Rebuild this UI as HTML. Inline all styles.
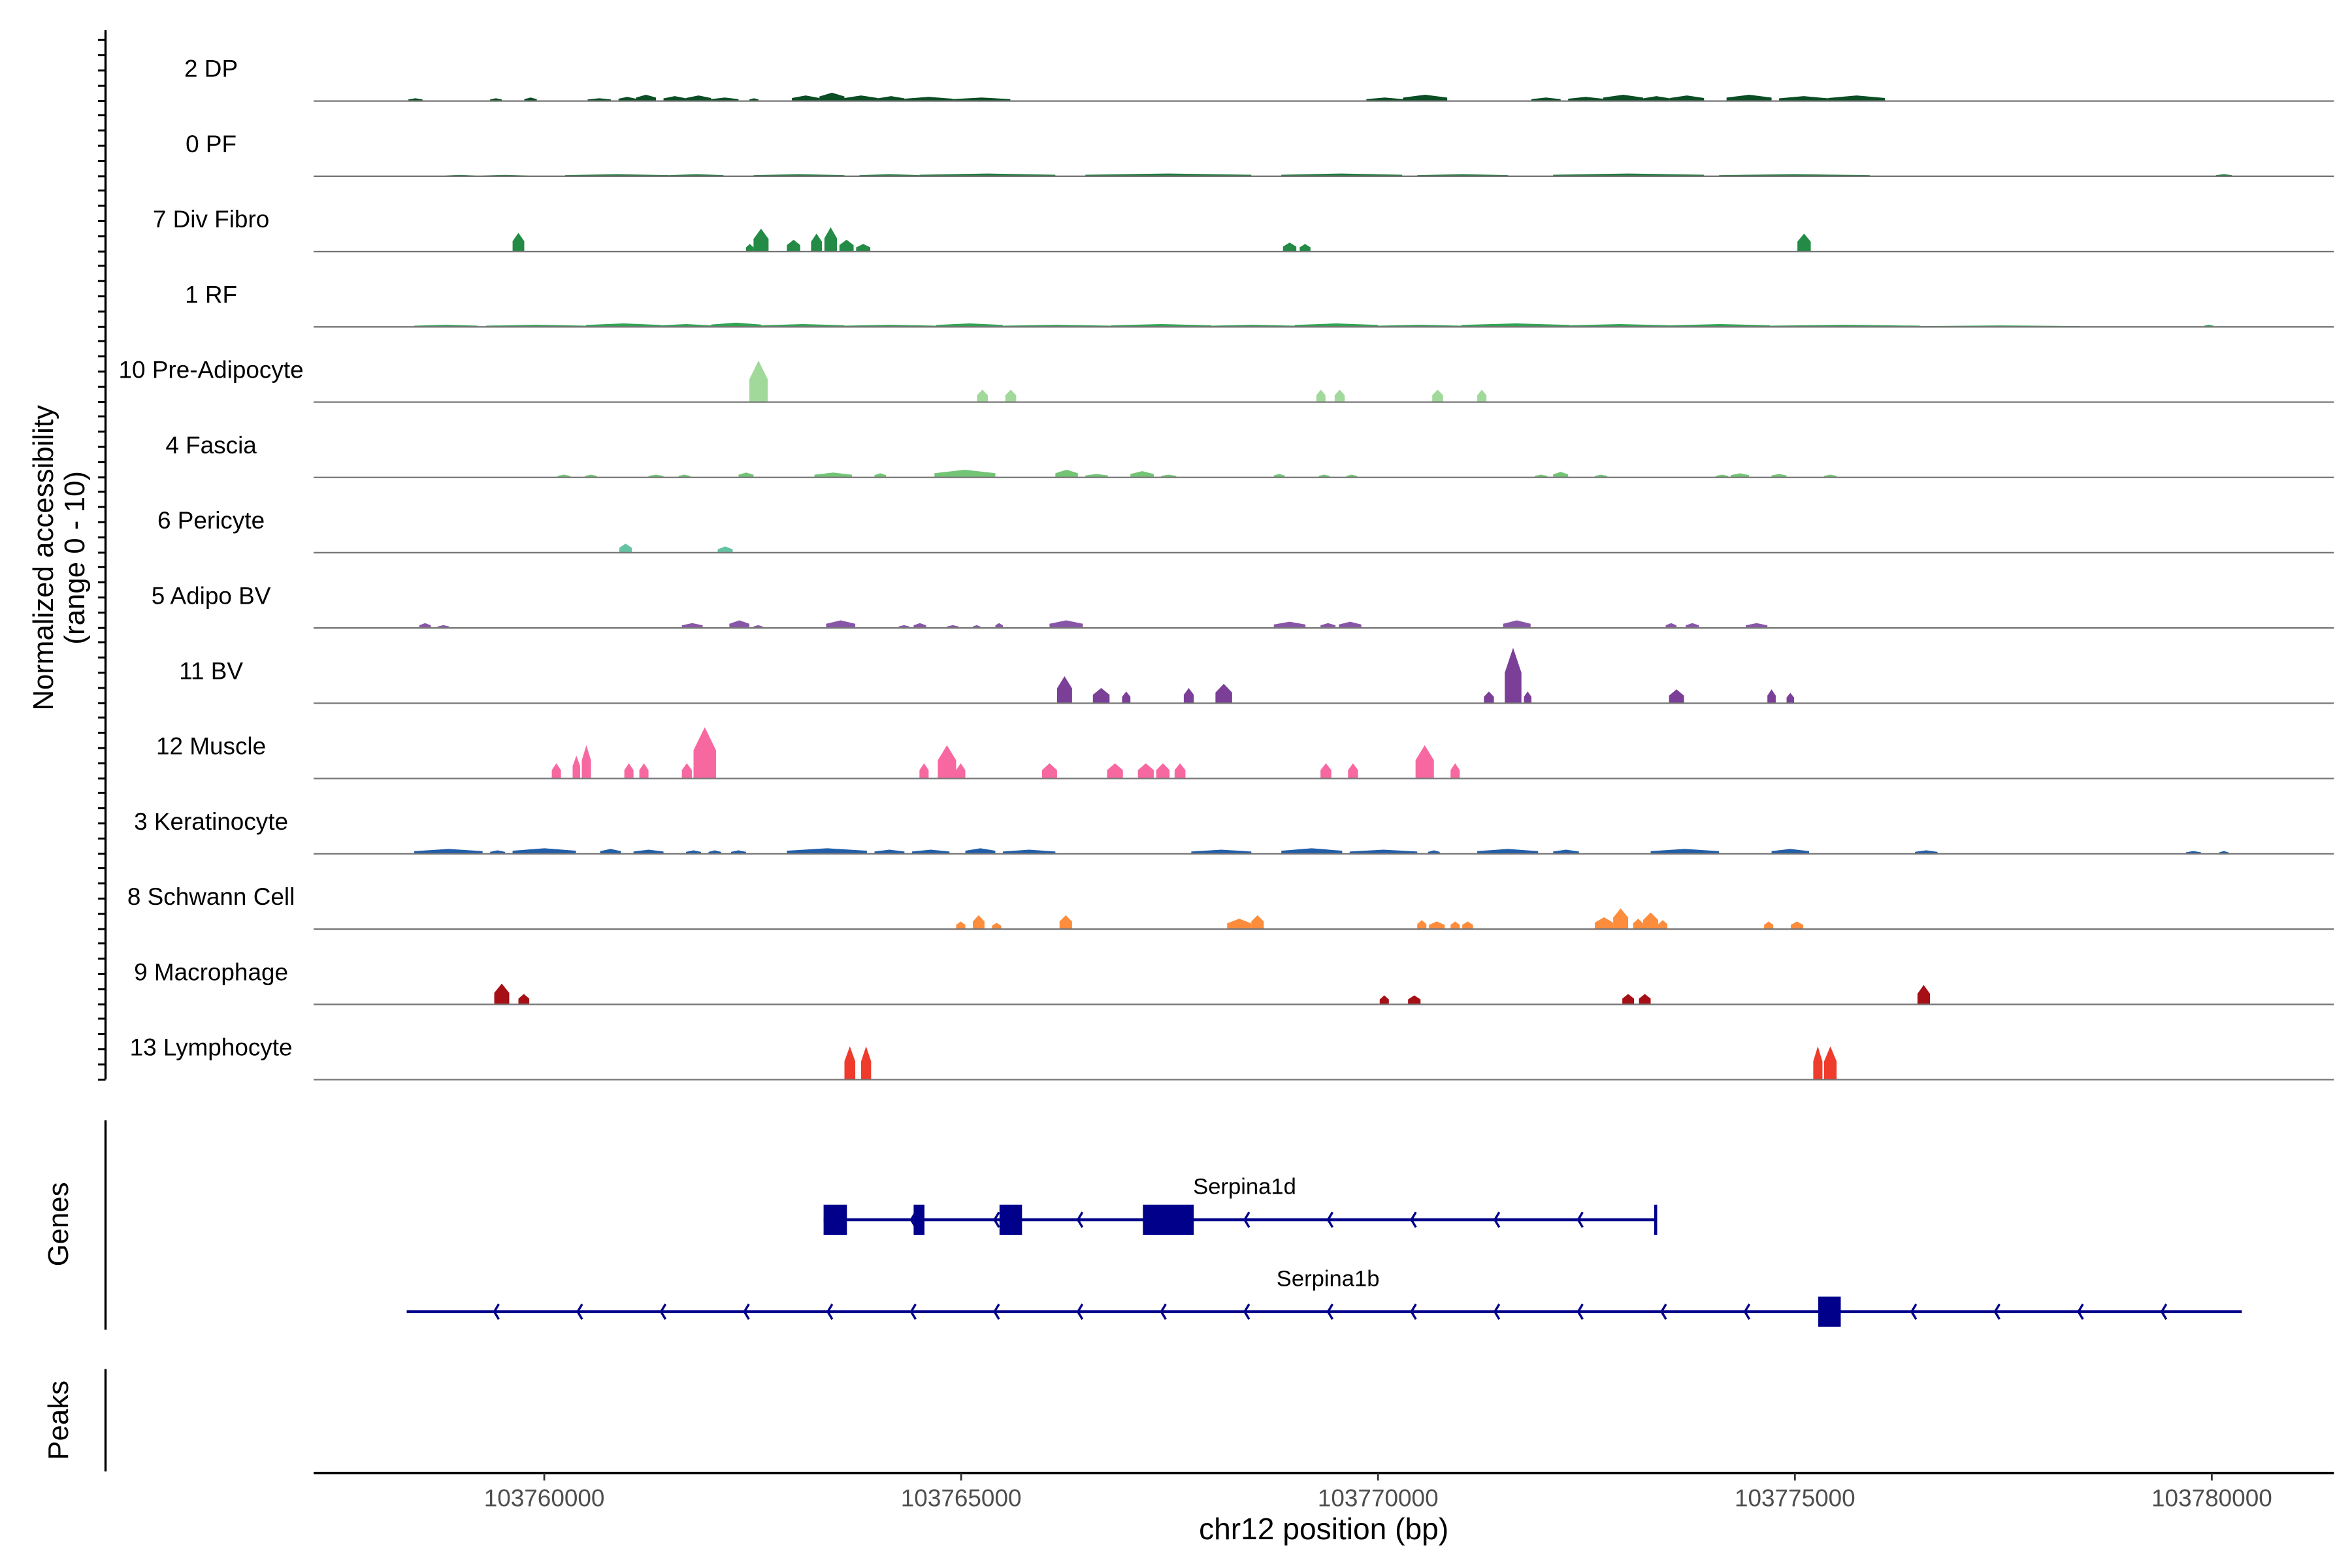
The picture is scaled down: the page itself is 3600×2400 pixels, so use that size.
<!DOCTYPE html>
<html><head><meta charset="utf-8"><style>
html,body{margin:0;padding:0;background:#fff;}
svg{display:block;font-family:"Liberation Sans",Arial,sans-serif;}
</style></head>
<body>
<svg id="chart" width="3600" height="2400" viewBox="0 0 1560 1040" xmlns="http://www.w3.org/2000/svg">
<g id="tracks"></g>
<g id="yaxis"></g>
<text transform="translate(35,370) rotate(-90)" text-anchor="middle" font-size="19" fill="#000">Normalized accessibility</text>
<text transform="translate(56,370) rotate(-90)" text-anchor="middle" font-size="19" fill="#000">(range 0 - 10)</text>
<line x1="70" y1="743" x2="70" y2="882" stroke="#000" stroke-width="1.5"/>
<text transform="translate(45,812) rotate(-90)" text-anchor="middle" font-size="19" fill="#000">Genes</text>
<line x1="70" y1="908" x2="70" y2="976" stroke="#000" stroke-width="1.5"/>
<text transform="translate(45,942) rotate(-90)" text-anchor="middle" font-size="19" fill="#000">Peaks</text>
<g id="genes"></g>
<g id="xaxis"></g>
<text x="878" y="1021" text-anchor="middle" font-size="20" fill="#000">chr12 position (bp)</text>
</svg>
<script>
// genomic positions in kb relative to 103,760,000; values in normalized accessibility (0-10)
const trackNames = ["2 DP","0 PF","7 Div Fibro","1 RF","10 Pre-Adipocyte","4 Fascia","6 Pericyte","5 Adipo BV","11 BV","12 Muscle","3 Keratinocyte","8 Schwann Cell","9 Macrophage","13 Lymphocyte"];
const trackColors = ["#0b4d24","#1f7a3c","#238b45","#33a454","#a1d99b","#74c476","#66c2a4","#8856a7","#7b3f98","#f768a1","#225ea8","#fd8d3c","#a50f15","#ef3b2c"];
const peaksDP = [[-1.63,-1.46,0.4],[-0.65,-0.51,0.4],[-0.24,-0.09,0.5],[0.52,0.80,0.4],[0.89,1.1,0.6],[1.1,1.34,0.9],[1.43,1.7,0.7],[1.7,2.0,0.8],[2.0,2.33,0.5],[2.46,2.57,0.4],[2.97,3.3,0.8],[3.3,3.6,1.2],[3.6,4.0,0.8],[4.0,4.32,0.7],[4.32,4.9,0.6],[4.9,5.59,0.5],[9.86,10.3,0.5],[10.3,10.83,0.9],[11.84,12.19,0.5],[12.28,12.7,0.6],[12.7,13.18,0.9],[13.18,13.5,0.7],[13.5,13.91,0.8],[14.18,14.72,0.9],[14.81,15.4,0.7],[15.4,16.08,0.8]];
const peaksPF = [[-1.19,-0.83,0.2],[-0.74,-0.20,0.2],[0.25,1.5,0.3],[1.5,2.15,0.3],[2.51,3.6,0.3],[3.78,4.5,0.3],[4.5,6.13,0.4],[6.49,8.48,0.4],[8.84,10.29,0.4],[10.47,11.56,0.3],[12.10,13.91,0.4],[14.09,15.90,0.3],[20.05,20.24,0.3]];
const peaksDivFibro = [[-0.38,-0.24,2.7],[2.42,2.51,1.1],[2.51,2.69,3.3],[2.91,3.07,1.7],[3.20,3.33,2.6],[3.36,3.51,3.5],[3.54,3.71,1.7],[3.74,3.91,1.1],[8.86,9.02,1.3],[9.06,9.19,1.1],[15.03,15.19,2.6]];
const peaksRF = [[-1.56,-0.8,0.3],[-0.7,0.5,0.3],[0.5,1.4,0.5],[1.4,2.0,0.4],[2.0,2.6,0.6],[2.6,3.6,0.4],[3.6,4.7,0.3],[4.7,5.5,0.5],[5.5,6.8,0.3],[6.8,8.0,0.4],[8.0,9.0,0.3],[9.0,10.0,0.5],[10.0,11.0,0.3],[11.0,12.3,0.5],[12.3,13.5,0.4],[13.5,14.7,0.4],[14.7,16.5,0.3],[16.5,18.43,0.2],[19.91,20.02,0.3]];
const peaksPreAdipo = [[2.46,2.68,6.0],[5.19,5.32,1.8],[5.53,5.66,1.8],[9.26,9.37,1.8],[9.48,9.60,1.8],[10.65,10.78,1.8],[11.19,11.30,1.8]];
const peaksFascia = [[0.16,0.31,0.4],[0.49,0.63,0.4],[1.25,1.43,0.4],[1.61,1.75,0.4],[2.33,2.51,0.7],[3.24,3.69,0.7],[3.96,4.10,0.6],[4.68,5.41,1.1],[6.13,6.40,1.1],[6.49,6.76,0.5],[7.03,7.31,0.9],[7.40,7.58,0.4],[8.75,8.88,0.5],[9.29,9.42,0.4],[9.62,9.75,0.4],[11.88,12.03,0.4],[12.10,12.28,0.8],[12.60,12.75,0.4],[14.05,14.20,0.4],[14.23,14.45,0.6],[14.72,14.90,0.5],[15.35,15.50,0.4]];
const peaksPericyte = [[0.90,1.05,1.3],[2.08,2.26,0.9]];
const peaksAdipoBV = [[-1.50,-1.36,0.7],[-1.28,-1.14,0.4],[1.65,1.90,0.7],[2.22,2.46,1.1],[2.51,2.62,0.4],[3.38,3.73,1.1],[4.25,4.38,0.4],[4.43,4.58,0.7],[4.83,4.97,0.4],[5.14,5.23,0.4],[5.41,5.50,0.7],[6.06,6.46,1.1],[8.75,9.13,0.9],[9.31,9.49,0.7],[9.53,9.80,0.9],[11.50,11.83,1.1],[13.45,13.58,0.7],[13.69,13.85,0.7],[14.41,14.67,0.7]];
const peaksBV = [[6.15,6.33,3.9],[6.58,6.78,2.2],[6.93,7.03,1.7],[7.67,7.79,2.2],[8.05,8.25,2.8],[11.27,11.39,1.7],[11.52,11.72,8.0],[11.75,11.84,1.7],[13.49,13.67,2.0],[14.67,14.77,2.0],[14.90,14.99,1.5]];
const peaksMuscle = [[0.09,0.20,2.2],[0.34,0.43,3.3],[0.45,0.56,4.8],[0.96,1.07,2.2],[1.14,1.25,2.2],[1.65,1.77,2.2],[1.79,2.06,7.4],[4.50,4.61,2.2],[4.72,4.94,4.8],[4.94,5.05,2.2],[5.97,6.15,2.2],[6.75,6.94,2.2],[7.12,7.31,2.2],[7.34,7.50,2.2],[7.56,7.69,2.2],[9.31,9.44,2.2],[9.64,9.76,2.2],[10.45,10.67,4.8],[10.87,10.98,2.2]];
const peaksKerat = [[-1.56,-0.74,0.7],[-0.65,-0.47,0.5],[-0.38,0.38,0.8],[0.67,0.92,0.7],[1.07,1.43,0.6],[1.70,1.88,0.5],[1.97,2.12,0.5],[2.24,2.42,0.5],[2.91,3.87,0.8],[3.96,4.32,0.6],[4.41,4.86,0.6],[5.05,5.41,0.8],[5.50,6.13,0.6],[7.76,8.48,0.6],[8.84,9.57,0.8],[9.66,10.47,0.6],[10.60,10.74,0.5],[11.19,11.92,0.7],[12.10,12.41,0.6],[13.27,14.09,0.7],[14.72,15.17,0.7],[16.44,16.71,0.5],[19.69,19.87,0.4],[20.09,20.20,0.4]];
const peaksSchwann = [[4.94,5.05,1.1],[5.14,5.28,2.0],[5.37,5.48,0.9],[6.18,6.33,2.0],[8.19,8.48,1.5],[8.48,8.63,2.0],[10.47,10.58,1.3],[10.61,10.80,1.1],[10.87,10.98,1.1],[11.01,11.14,1.1],[12.60,12.82,1.7],[12.82,13.00,3.0],[13.06,13.18,1.5],[13.18,13.36,2.4],[13.36,13.47,1.3],[14.63,14.74,1.1],[14.95,15.10,1.1]];
const peaksMacro = [[-0.60,-0.42,3.0],[-0.31,-0.18,1.5],[10.02,10.13,1.3],[10.36,10.51,1.3],[12.93,13.07,1.5],[13.13,13.27,1.5],[16.47,16.62,2.8]];
const peaksLympho = [[3.60,3.73,4.8],[3.80,3.92,4.8],[15.22,15.33,4.8],[15.35,15.50,4.8]];
const trackPeaks = [peaksDP,peaksPF,peaksDivFibro,peaksRF,peaksPreAdipo,peaksFascia,peaksPericyte,peaksAdipoBV,peaksBV,peaksMuscle,peaksKerat,peaksSchwann,peaksMacro,peaksLympho];
const xTicks = [0,5,10,15,20];
const xTickLabels = ["103760000","103765000","103770000","103775000","103780000"];
const geneNames = ["Serpina1d","Serpina1b"];
const geneStarts = [3.35,-1.65];
const geneEnds = [13.33,20.36];
const geneExons = [[[3.35,3.63],[4.43,4.56],[5.46,5.73],[7.18,7.79]],[[15.28,15.55]]];
const geneLabelPos = [8.4,9.4];

const NS="http://www.w3.org/2000/svg";
const X0=208,X1=1548;
function xs(kb){return 361+kb*55.3;}
const top0=20, step=49.93;
function baseY(i){return 67+i*step;}
function ys(v){return v*4.6;}
function mk(tag,attrs,parent){const e=document.createElementNS(NS,tag);for(const k in attrs)e.setAttribute(k,attrs[k]);parent.appendChild(e);return e;}

const tracks=document.getElementById('tracks');
trackNames.forEach((name,i)=>{
  const b=baseY(i);
  const g=mk('g',{},tracks);
  
  
  const t=mk('text',{x:140,y:b-16,'text-anchor':'middle','font-size':16,fill:'#000'},g);
  t.textContent=name;
  
  
  trackPeaks[i].forEach(p=>{
    const s=xs(p[0]),e=xs(p[1]),m=(s+e)/2,h=ys(p[2]);
    const poly=mk('polygon',{points:`${s},${b} ${s},${b-h*0.55} ${m},${b-h} ${e},${b-h*0.55} ${e},${b}`,fill:trackColors[i]},g);
    
    
  });
  const bl=mk('line',{x1:X0,x2:X1,y1:b,y2:b,stroke:'#777',"stroke-width":1},g);
  
  
});

const ya=document.getElementById('yaxis');
mk('line',{x1:70,x2:70,y1:top0,y2:716,stroke:'#000','stroke-width':1.5},ya);
trackNames.forEach((n,i)=>{
  const b=baseY(i);
  [0,2.2,4.4,6.6,8.8].forEach(v=>{
    const tk=mk('line',{x1:65,x2:70,y1:b-ys(v),y2:b-ys(v),stroke:'#000','stroke-width':1.3},ya);
    
    
  });
});

const gg=document.getElementById('genes');
const gy=[809,870];
geneNames.forEach((n,i)=>{
  const y=gy[i];
  const g=mk('g',{},gg);
  
  
  mk('line',{x1:xs(geneStarts[i]),x2:xs(geneEnds[i]),y1:y,y2:y,stroke:'#00008b','stroke-width':2},g);
  for(let k=-0.6;k<geneEnds[i];k+=1){
    if(k<=geneStarts[i]+0.05)continue;
    const x=xs(k);
    mk('polyline',{points:`${x+3},${y-5} ${x},${y} ${x+3},${y+5}`,fill:'none',stroke:'#00008b','stroke-width':1.5},g);
  }
  geneExons[i].forEach(ex=>{
    const r=mk('rect',{x:xs(ex[0]),y:y-10,width:xs(ex[1])-xs(ex[0]),height:20,fill:'#00008b'},g);
    
    
  });
  if(i===0) mk('line',{x1:xs(geneEnds[i]),x2:xs(geneEnds[i]),y1:y-10,y2:y+10,stroke:'#00008b','stroke-width':2},g);
  const t=mk('text',{x:xs(geneLabelPos[i]),y:y-17,'text-anchor':'middle','font-size':15,fill:'#000'},g);
  t.textContent=n;
  
  
});

const xa=document.getElementById('xaxis');
mk('line',{x1:X0,x2:X1,y1:977,y2:977,stroke:'#000','stroke-width':1.5},xa);
xTicks.forEach((v,i)=>{
  const x=xs(v);
  const tk=mk('line',{x1:x,x2:x,y1:977,y2:982,stroke:'#333','stroke-width':1.2},xa);
  
  
  const t=mk('text',{x:x,y:999,'text-anchor':'middle','font-size':16,fill:'#4d4d4d'},xa);
  t.textContent=xTickLabels[i];
  
  
});
</script>
</body></html>
